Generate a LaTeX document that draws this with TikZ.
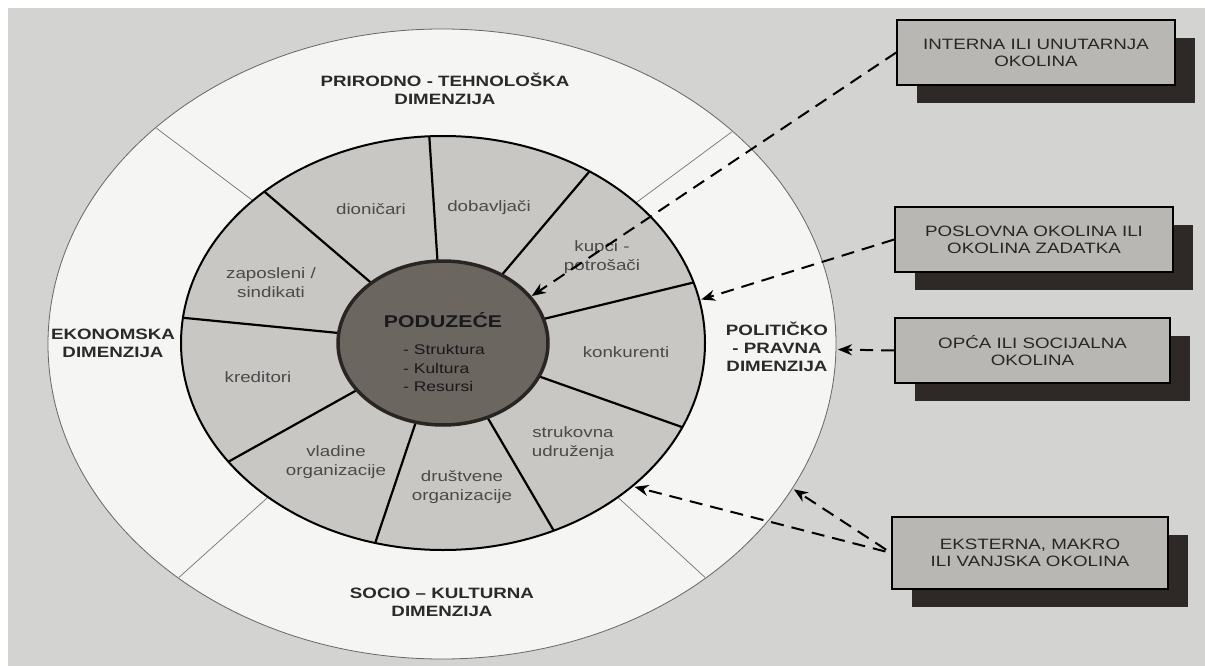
\documentclass[tikz,border=0pt]{standalone}
\usepackage{fontspec}
\setmainfont{Liberation Sans}[FakeStretch=1.25]
\usetikzlibrary{shadows,arrows.meta}
\definecolor{bgc}{HTML}{D3D3D1}
\definecolor{outerc}{HTML}{F5F5F3}
\definecolor{ringc}{HTML}{C8C7C4}
\definecolor{corec}{HTML}{6C6660}
\definecolor{coreedge}{HTML}{2A2522}
\definecolor{boxc}{HTML}{B8B7B4}
\definecolor{shadowc}{HTML}{2E2826}
\definecolor{txtc}{HTML}{2A2A2A}
\begin{document}
\begin{tikzpicture}[x=1pt,y=-1pt,
  dimlabel/.style={font=\fontsize{15}{18}\selectfont\bfseries, text=txtc, align=center, inner sep=0pt},
  seglabel/.style={font=\fontsize{15}{19}\selectfont, text=txtc!85!white, align=center, inner sep=0pt},
  corelabel/.style={text=black!90, inner sep=0pt},
  okbox/.style={draw=black, line width=1.6pt, fill=boxc, minimum height=65pt, align=center,
    font=\fontsize{15}{17}\selectfont, text=black!85,
    drop shadow={shadow xshift=20pt, shadow yshift=-18pt, fill=shadowc, opacity=1}},
  dasharrow/.style={line width=2pt, dash pattern=on 13pt off 8pt, -{Stealth[length=14pt,width=11pt]}},
  thindiv/.style={draw=black!55, line width=0.7pt},
  segdiv/.style={draw=black, line width=2.2pt}
]
\useasboundingbox (0,0) rectangle (1205,666);
\fill[white] (0,0) rectangle (1205,666);
\fill[bgc] (8,8) rectangle (1205,666);

% outer ring
\filldraw[fill=outerc, draw=black!60, line width=0.8pt] (442,344) ellipse [x radius=394pt, y radius=315pt];
\foreach \a in {42.5,136.6,-48,-132}
  \draw[thindiv] ({443+240*cos(\a)},{343-190*sin(\a)}) -- ({442+393*cos(\a)},{344-314*sin(\a)});

% inner ring
\filldraw[fill=ringc, draw=black, line width=2pt] (443,343) ellipse [x radius=262pt, y radius=207pt];
\foreach \a in {17,56,93,133,173,-145,-105,-65,-24}
  \draw[segdiv] ({443+100*cos(\a)},{343-78*sin(\a)}) -- ({443+262*cos(\a)},{343-207*sin(\a)});

% core
\filldraw[fill=corec, draw=coreedge, line width=3.5pt] (443,343) ellipse [x radius=105pt, y radius=82pt];

% core text
\node[corelabel, font=\fontsize{17}{20}\selectfont\bfseries] (core) at (443,320) {PODUZEĆE};
\node[corelabel, font=\fontsize{14}{18.5}\selectfont, align=left] (coreitems) at (444,368) {- Struktura\\- Kultura\\- Resursi};

% segment labels
\node[seglabel] (s1) at (371,209) {dioničari};
\node[seglabel] (s2) at (489,208) {dobavljači};
\node[seglabel] (s3) at (602,257) {kupci -\\potrošači};
\node[seglabel] (s4) at (626,352) {konkurenti};
\node[seglabel] (s5) at (573,443) {strukovna\\udruženja};
\node[seglabel] (s6) at (462,487) {društvene\\organizacije};
\node[seglabel] (s7) at (336,462) {vladine\\organizacije};
\node[seglabel] (s8) at (258,377) {kreditori};
\node[seglabel] (s9) at (271,283) {zaposleni /\\sindikati};

% dimension labels
\node[dimlabel] (d1) at (445,89) {PRIRODNO - TEHNOLOŠKA\\DIMENZIJA};
\node[dimlabel] (d2) at (113,343) {EKONOMSKA\\DIMENZIJA};
\node[dimlabel] (d3) at (777,347) {POLITIČKO\\- PRAVNA\\DIMENZIJA};
\node[dimlabel] (d4) at (442,602) {SOCIO – KULTURNA\\DIMENZIJA};

% boxes
\node[okbox, minimum width=278pt] (b1) at (1036,52.5) {INTERNA ILI UNUTARNJA\\OKOLINA};
\node[okbox, minimum width=278pt] (b2) at (1034,239.5) {POSLOVNA OKOLINA ILI\\OKOLINA ZADATKA};
\node[okbox, minimum width=275pt] (b3) at (1032.5,350.5) {OPĆA ILI SOCIJALNA\\OKOLINA};
\node[okbox, minimum width=276pt, minimum height=72pt] (b4) at (1030,553) {EKSTERNA, MAKRO\\ILI VANJSKA OKOLINA};

% arrow targets
\coordinate (t1) at ({443+107*cos(34)},{343-84*sin(34)});
\coordinate (t2) at ({443+264*cos(12)},{343-209*sin(12)});
\coordinate (t3) at ({442+396*cos(-1)},{344-317*sin(-1)});
\coordinate (t4) at ({443+264*cos(-43.5)},{343-209*sin(-43.5)});
\coordinate (t5) at ({442+396*cos(-27.3)},{344-317*sin(-27.3)});

\draw[dasharrow] (b1.west) -- (t1);
\draw[dasharrow] (b2.west) -- (t2);
\draw[dasharrow] (b3.west) -- (t3);
\draw[dasharrow, shorten <=6pt] (b4.west) -- (t4);
\draw[dasharrow, shorten <=6pt] (b4.west) -- (t5);
\end{tikzpicture}
\end{document}
